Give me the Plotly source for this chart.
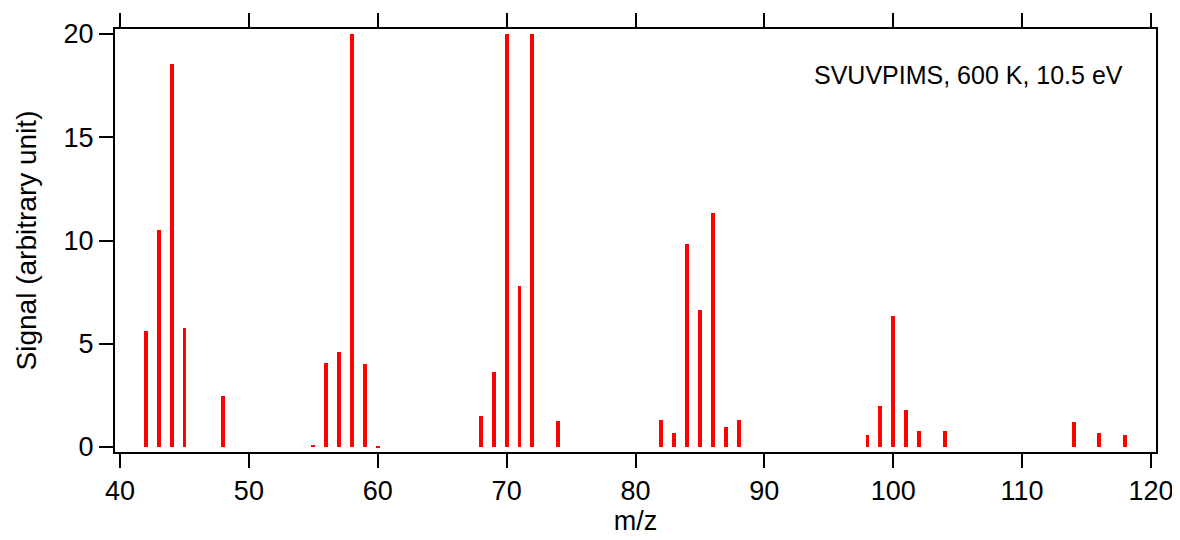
import plotly.graph_objects as go

mz = [42, 43, 44, 45, 48, 55, 56, 57, 58, 59, 60, 68, 69, 70, 71, 72, 74,
      82, 83, 84, 85, 86, 87, 88, 98, 99, 100, 101, 102, 104, 114, 116, 118]
signal = [5.6, 10.5, 18.55, 5.75, 2.47, 0.1, 4.05, 4.6, 20.0, 4.03, 0.05,
          1.5, 3.63, 20.0, 7.8, 20.0, 1.26,
          1.3, 0.66, 9.83, 6.63, 11.35, 0.95, 1.3,
          0.58, 1.98, 6.34, 1.79, 0.76, 0.8, 1.22, 0.68, 0.58]
x_ticks = [40, 50, 60, 70, 80, 90, 100, 110, 120]
y_ticks = [0, 5, 10, 15, 20]
label = "SVUVPIMS, 600 K, 10.5 eV"

font = "Liberation Sans, Arial, sans-serif"

fig = go.Figure(go.Bar(x=mz, y=signal, width=0.3,
                       marker=dict(color="#ff0000", line=dict(width=0))))

# page body has an 8px margin; compensate so plot area lands at 115..1156 x 29..452
fig.update_layout(
    width=1180, height=540,
    margin=dict(l=107, r=32, t=21, b=96, autoexpand=False),
    paper_bgcolor="white", plot_bgcolor="white",
    font=dict(family=font, size=27, color="black"),
    showlegend=False,
    bargap=0,
)
fig.update_xaxes(
    range=[39.61, 120.39], tickvals=x_ticks, ticks="outside", ticklen=14,
    tickwidth=2, tickcolor="black", showline=True, linewidth=2, linecolor="black",
    mirror="ticks", showgrid=False, zeroline=False,
    title=dict(text="m/z", font=dict(size=27), standoff=6),
    tickfont=dict(size=27), automargin=False,
)
fig.update_yaxes(
    range=[-0.24, 20.24], tickvals=y_ticks, ticks="outside", ticklen=14,
    tickwidth=2, tickcolor="black", showline=True, linewidth=2, linecolor="black",
    mirror=True, showgrid=False, zeroline=False,
    title=dict(text="Signal (arbitrary unit)", font=dict(size=28), standoff=19),
    tickfont=dict(size=27), automargin=False,
)
fig.add_annotation(text=label, x=0.970, y=0.891, xref="paper", yref="paper",
                   xanchor="right", yanchor="middle", showarrow=False,
                   font=dict(size=25, family=font))

fig.write_html("out.html")
